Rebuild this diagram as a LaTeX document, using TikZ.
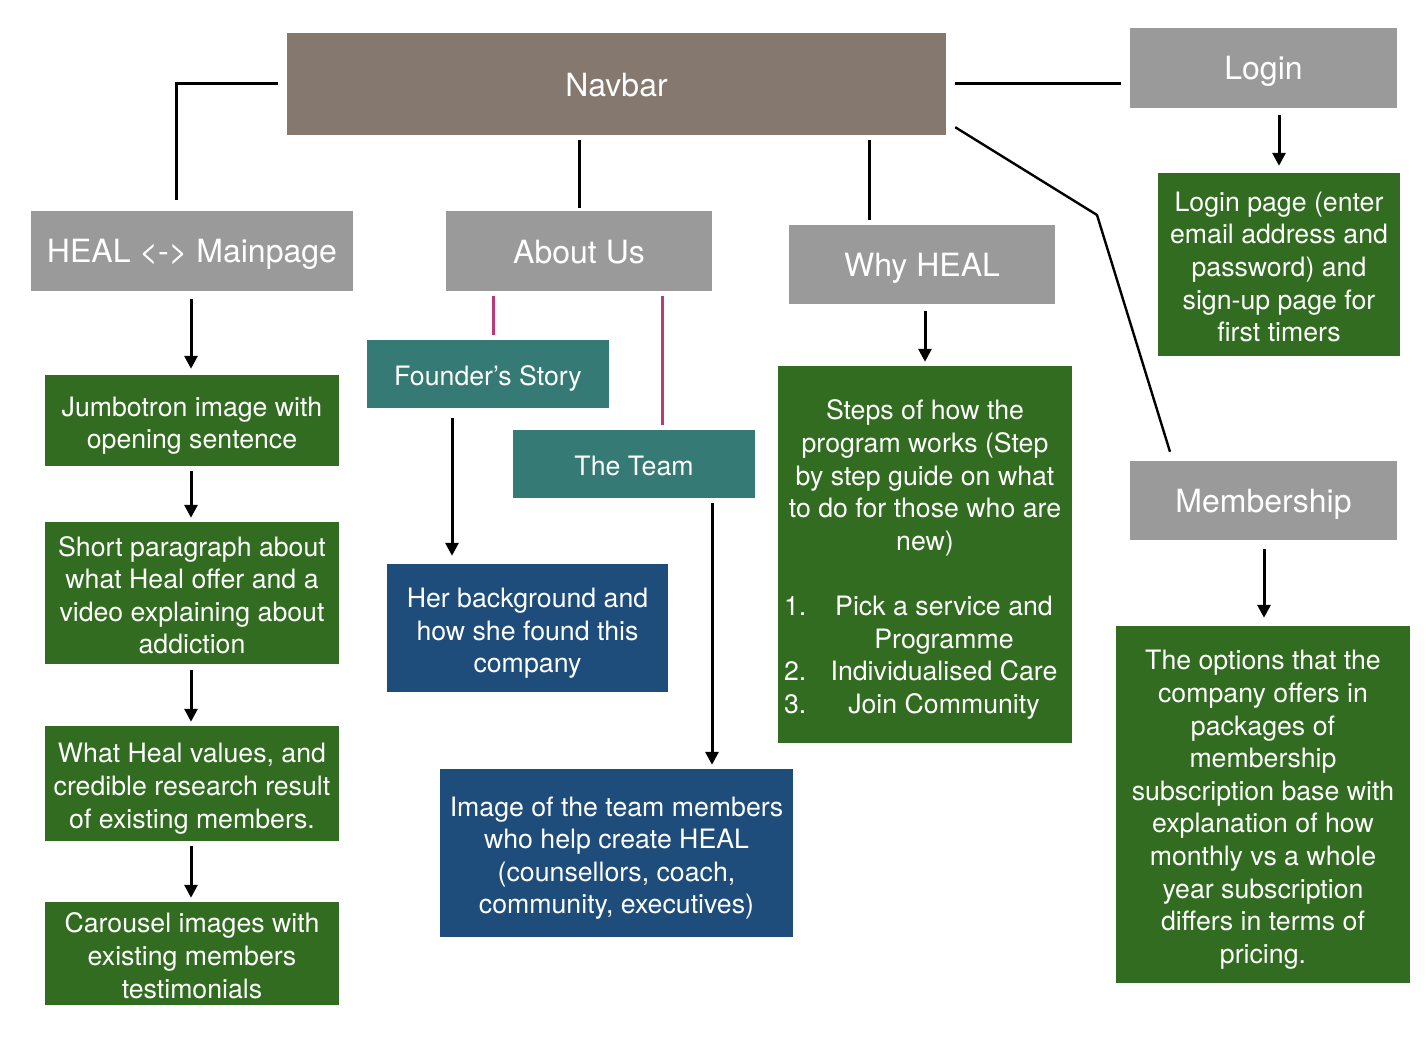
\documentclass[tikz,border=0pt]{standalone}
\usepackage{fontspec}
\setmainfont{TeX Gyre Heros}
\usetikzlibrary{calc,arrows.meta}
\definecolor{navbrown}{RGB}{133,120,111}
\definecolor{tabgray}{RGB}{154,154,154}
\definecolor{leafgreen}{RGB}{50,108,32}
\definecolor{tealbox}{RGB}{53,122,116}
\definecolor{navyblue}{RGB}{30,77,123}
\definecolor{linkpink}{RGB}{186,58,120}
% struts that fix the height of the first line and the depth of the last one
\newcommand{\upstrut}{\rule{0pt}{30pt}}
\newcommand{\downstrut}{\rule[-6pt]{0pt}{6pt}}
\newcommand{\tabupstrut}{\rule{0pt}{30pt}}
\newcommand{\tabdownstrut}{\rule[-5pt]{0pt}{5pt}}
\begin{document}
\begin{tikzpicture}[x=1pt,y=-1pt,
  base/.style={inner sep=0pt, text=white, align=center, anchor=center},
  tab/.style={base, fill=tabgray, font=\fontsize{32}{38}\selectfont},
  navbox/.style={tab, fill=navbrown},
  body/.style={base, font=\fontsize{26.7}{32.6}\selectfont},
  greenbox/.style={body, fill=leafgreen},
  tealnode/.style={body, fill=tealbox},
  bluebox/.style={body, fill=navyblue},
  link/.style={line width=3pt, black},
  thinlink/.style={line width=2.4pt, black},
  pinklink/.style={line width=3pt, linkpink},
  flow/.style={link, -{Triangle[length=13pt,width=13pt]}}
]
\useasboundingbox (0,0) rectangle (1428,1040);

% top bar and the five sections
\node[navbox, minimum width=659pt, minimum height=102pt] (nav) at (616.5,84) {\tabupstrut Navbar\tabdownstrut};
\node[tab, minimum width=267pt, minimum height=80pt] (login) at (1263.5,68) {\tabupstrut Login\tabdownstrut};
\node[tab, minimum width=322pt, minimum height=80pt] (heal) at (192,251) {\tabupstrut HEAL <-> Mainpage\tabdownstrut};
\node[tab, minimum width=266pt, minimum height=80pt] (about) at (579,251) {\tabupstrut About Us\tabdownstrut};
\node[tab, minimum width=266pt, minimum height=79pt] (why) at (922,264.5) {\tabupstrut Why HEAL\tabdownstrut};
\node[tab, minimum width=267pt, minimum height=79pt] (member) at (1263.5,500.5) {\tabupstrut Membership\tabdownstrut};

% login page
\node[greenbox, minimum width=242pt, minimum height=183pt] (loginpage) at (1279,264.5)
  {\upstrut Login page (enter\\email address and\\password) and\\sign-up page for\\first timers\downstrut};

% main page column
\node[greenbox, minimum width=294pt, minimum height=91pt] (jumbo) at (192,420.5)
  {\upstrut Jumbotron image with\\opening sentence\downstrut};
\node[greenbox, minimum width=294pt, minimum height=142pt] (short) at (192,593)
  {\upstrut Short paragraph about\\what Heal offer and a\\video explaining about\\addiction\downstrut};
\node[greenbox, minimum width=294pt, minimum height=115pt] (values) at (192,783.5)
  {\upstrut What Heal values, and\\credible research result\\of existing members.\downstrut};
\node[greenbox, minimum width=294pt, minimum height=103pt] (carousel) at (192,953.5)
  {\upstrut Carousel images with\\existing members\\testimonials\downstrut};

% about us branch
\node[tealnode, minimum width=242pt, minimum height=68pt] (founder) at (488,374) {\upstrut Founder’s Story\downstrut};
\node[tealnode, minimum width=242pt, minimum height=68pt] (team) at (634,464) {\upstrut The Team\downstrut};
\node[bluebox, minimum width=281pt, minimum height=128pt] (herbg) at (527.5,628)
  {\upstrut Her background and\\how she found this\\company\downstrut};
\node[bluebox, minimum width=353pt, minimum height=168pt] (teamimg) at (616.5,853)
  {\upstrut Image of the team members\\who help create HEAL\\(counsellors, coach,\\community, executives)\downstrut};

% why heal steps
\node[greenbox, minimum width=294pt, minimum height=377pt] (steps) at (925,554.5)
  {\makebox[288pt]{\upstrut Steps of how the}\\
   \makebox[288pt]{program works (Step}\\
   \makebox[288pt]{by step guide on what}\\
   \makebox[288pt]{to do for those who are}\\
   \makebox[288pt]{new)}\\
   \makebox[288pt]{\strut}\\
   \makebox[288pt][l]{\hspace{3pt}\makebox[40pt][l]{1.}\makebox[240pt]{Pick a service and}}\\
   \makebox[288pt][l]{\hspace{3pt}\makebox[40pt][l]{}\makebox[240pt]{Programme}}\\
   \makebox[288pt][l]{\hspace{3pt}\makebox[40pt][l]{2.}\makebox[240pt]{Individualised Care}}\\
   \makebox[288pt][l]{\hspace{3pt}\makebox[40pt][l]{3.}\makebox[240pt]{Join Community\downstrut}}};

% membership details
\node[greenbox, minimum width=294pt, minimum height=357pt] (mdetail) at (1263,804.5)
  {\upstrut The options that the\\company offers in\\packages of\\membership\\subscription base with\\explanation of how\\monthly vs a whole\\year subscription\\differs in terms of\\pricing.\downstrut};

% connectors from the navbar
\draw[link] ($(nav.west)+(-9,0)$) -| ($(heal.north)+(-16,-11)$);
\draw[link] ($(nav.south -| about.north)+(0,5)$) -- ($(about.north)+(0,-3)$);
\draw[link] ($(why.north)+(-53,-85)$) -- ($(why.north)+(-53,-5)$);
\draw[link] ($(nav.east)+(9,0)$) -- ($(login.west |- nav.east)+(-9,0)$);
\draw[thinlink] ($(nav.south east)+(9,-8)$) -- (1097,215) -- ($(member.north)+(-93.5,-9)$);

% login
\draw[flow] ($(login.south -| loginpage.north)+(0,7)$) -- ($(loginpage.north)+(0,-7)$);

% main page chain
\draw[flow] ($(heal.south)+(-1,8)$) -- ($(jumbo.north)+(-1,-6)$);
\draw[flow] ($(jumbo.south)+(-1,5)$) -- ($(short.north)+(-1,-4)$);
\draw[flow] ($(short.south)+(-1,6)$) -- ($(values.north)+(-1,-4)$);
\draw[flow] ($(values.south)+(-1,5)$) -- ($(carousel.north)+(-1,-4)$);

% about us
\draw[pinklink] ($(about.south)+(-86,5)$) -- ($(founder.north)+(5,-5)$);
\draw[pinklink] ($(about.south)+(83,5)$) -- ($(team.north)+(28,-5)$);
\draw[flow] ($(founder.south)+(-36,10)$) -- ($(herbg.north)+(-75.5,-8)$);
\draw[flow] ($(team.south)+(78,5)$) -- ($(teamimg.north)+(95.5,-4)$);

% why heal and membership
\draw[flow] ($(why.south)+(3,7)$) -- ($(steps.north)+(0,-4)$);
\draw[flow] ($(member.south)+(0.5,9)$) -- ($(mdetail.north)+(1,-8)$);
\end{tikzpicture}
\end{document}
